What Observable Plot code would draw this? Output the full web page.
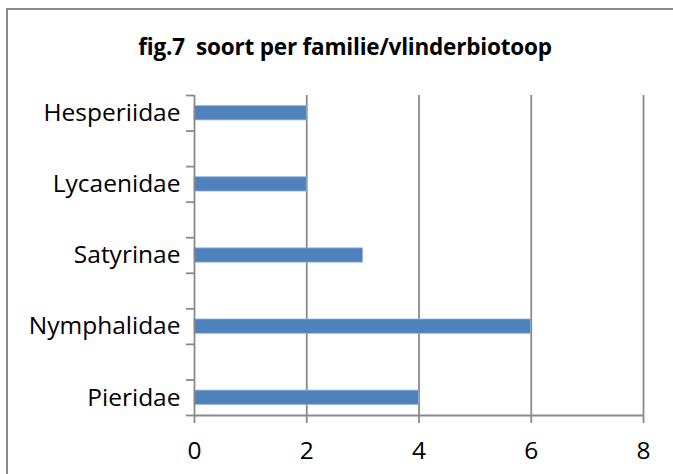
<!DOCTYPE html>
<html>
<head>
<meta charset="utf-8">
<script src="https://cdn.jsdelivr.net/npm/d3@7"></script>
<script src="https://cdn.jsdelivr.net/npm/@observablehq/plot@0.6"></script>
<style>
  html, body { margin: 0; padding: 0; background: #fff; }
  #wrap { position: relative; width: 673px; height: 474px; overflow: hidden; background: #fff; }
  #frame { position: absolute; left: 6px; top: 8px; width: 720px; height: 520px; border: 2px solid #8a8a8a; box-sizing: border-box; }
  #title { position: absolute; left: 0; width: 690px; top: 31px; text-align: center; font-family: "Open Sans", sans-serif; font-weight: bold; font-size: 22.5px; white-space: pre; color: #000; letter-spacing: -0.2px; }
  #chart { position: absolute; left: 0; top: 0; }
</style>
</head>
<body>
<div id="wrap">
  <div id="frame"></div>
  <div id="title">fig.7  soort per familie/vlinderbiotoop</div>
  <div id="chart"></div>
</div>
<script>
// Category slots from bottom to top (blank rows between families, as in the source sheet)
const slots = ["Pieridae", "", "Nymphalidae", "", "Satyrinae", "", "Lycaenidae", "", "Hesperiidae"];
const categories = ["Pieridae", "Nymphalidae", "Satyrinae", "Lycaenidae", "Hesperiidae"];
const values = [4, 6, 3, 2, 2];
const xTicks = [0, 2, 4, 6, 8];

const data = categories.map((c, i) => ({ name: c, value: values[i], slot: slots.indexOf(c) }));
const slotEdges = d3.range(0, slots.length + 1);
const slotCenters = d3.range(0, slots.length).map(i => i + 0.5).filter((d, i) => slots[i] !== "");

const gray = "#8a8a8a";
const font = "'Open Sans', sans-serif";

const chart = Plot.plot({
  width: 673,
  height: 474,
  marginLeft: 194,
  marginRight: 30,
  marginTop: 95,
  marginBottom: 59,
  style: { fontFamily: font, background: "transparent", color: "#000" },
  x: { domain: [0, 8] },
  y: { domain: [0, slots.length] },
  marks: [
    Plot.ruleX(xTicks.filter(d => d > 0), { stroke: gray, strokeWidth: 1.8 }),
    Plot.rectX(data, {
      x1: 0,
      x2: "value",
      y1: d => d.slot + 0.3,
      y2: d => d.slot + 0.7,
      fill: "#4f81bd",
      stroke: "#8fb0d8",
      strokeWidth: 0.8
    }),
    Plot.ruleX([0], { stroke: gray, strokeWidth: 1.8 }),
    Plot.ruleY([0], { stroke: gray, strokeWidth: 1.8 }),
    Plot.axisY(slotEdges, { tickSize: 8, tickFormat: () => "", stroke: gray, strokeWidth: 1.8 }),
    Plot.axisY(slotCenters, {
      tickSize: 0,
      tickPadding: 14,
      tickFormat: d => slots[Math.floor(d)],
      fontSize: 24.5,
      fill: "#000"
    }),
    Plot.axisX(xTicks, {
      tickSize: 8,
      tickPadding: 18,
      fontSize: 24.5,
      fill: "#000",
      stroke: gray,
      strokeWidth: 1.8,
      label: null
    })
  ]
});
document.getElementById("chart").appendChild(chart);
</script>
</body>
</html>
